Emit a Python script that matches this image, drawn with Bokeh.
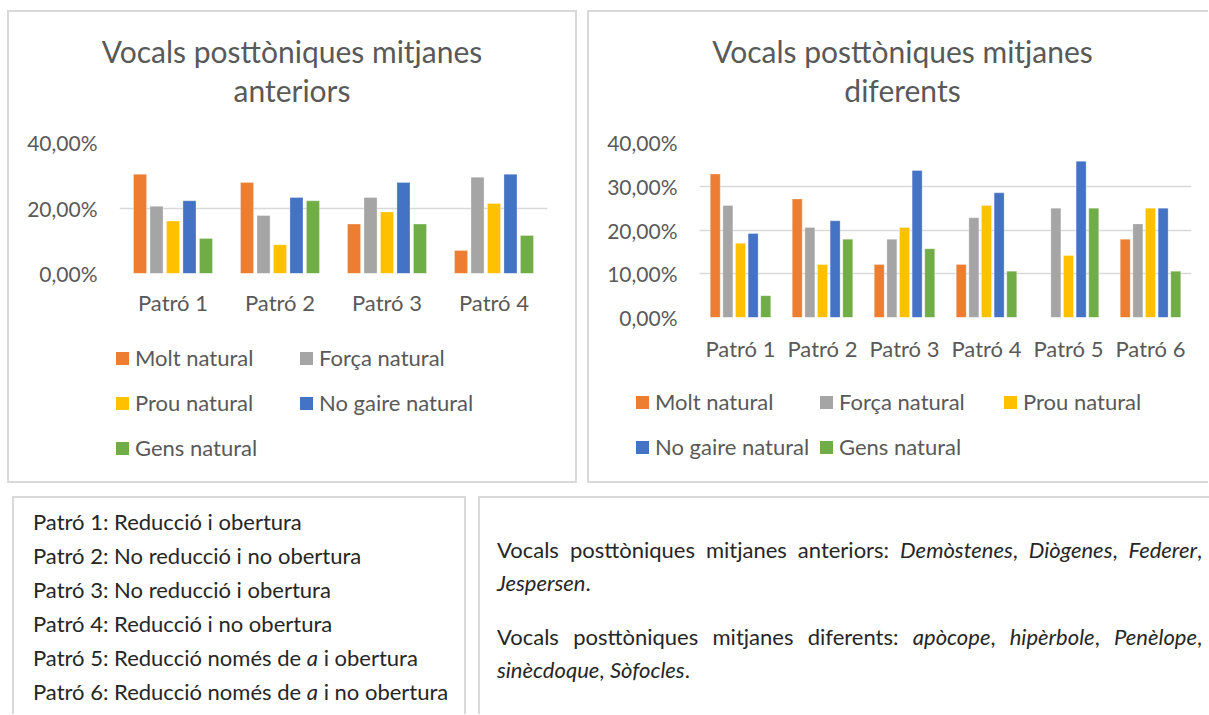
from bokeh.plotting import figure
from bokeh.models import (ColumnDataSource, FactorRange, Range1d, FixedTicker,
                          CustomJSTickFormatter, Div)
from bokeh.layouts import row, column
from bokeh.transform import dodge
from bokeh.embed import file_html
from bokeh.resources import INLINE

# ---------------- data ----------------
series = ["Molt natural", "Força natural", "Prou natural", "No gaire natural", "Gens natural"]
colors = ["#ED7D31", "#A5A5A5", "#FFC000", "#4472C4", "#70AD47"]

cats_a = ["Patró 1", "Patró 2", "Patró 3", "Patró 4"]
molt_a = [30.3, 27.8, 15.1, 7.0]
forca_a = [20.5, 17.7, 23.2, 29.4]
prou_a = [16.0, 8.8, 18.8, 21.4]
nogaire_a = [22.2, 23.2, 27.8, 30.3]
gens_a = [10.7, 22.2, 15.1, 11.6]
ticks_a = [0, 20, 40]

cats_d = ["Patró 1", "Patró 2", "Patró 3", "Patró 4", "Patró 5", "Patró 6"]
molt_d = [32.8, 27.1, 12.1, 12.1, 0.0, 17.9]
forca_d = [25.6, 20.6, 17.9, 22.8, 25.0, 21.4]
prou_d = [17.0, 12.1, 20.6, 25.6, 14.2, 25.0]
nogaire_d = [19.2, 22.1, 33.6, 28.5, 35.7, 25.0]
gens_d = [5.0, 17.9, 15.7, 10.6, 25.0, 10.6]
ticks_d = [0, 10, 20, 30, 40]

title_a = ["Vocals posttòniques mitjanes", "anteriors"]
title_d = ["Vocals posttòniques mitjanes", "diferents"]

notes_patrons = [
    "Patró 1: Reducció i obertura",
    "Patró 2: No reducció i no obertura",
    "Patró 3: No reducció i obertura",
    "Patró 4: Reducció i no obertura",
    "Patró 5: Reducció només de <i>a</i> i obertura",
    "Patró 6: Reducció només de <i>a</i> i no obertura",
]
note_anteriors = ("Vocals posttòniques mitjanes anteriors: <i>Demòstenes</i>, <i>Diògenes</i>, "
                  "<i>Federer</i>, <i>Jespersen</i>.")
note_diferents = ("Vocals posttòniques mitjanes diferents: <i>apòcope</i>, <i>hipèrbole</i>, "
                  "<i>Penèlope</i>, <i>sinècdoque</i>, <i>Sòfocles</i>.")

FONT = "Lato"
GRAY = "#595959"
BORDER = "#d9d9d9"
TITLE_H = 112


def make_title(lines, width, pad_left):
    html = ('<div style="box-sizing:border-box;width:%dpx;height:%dpx;padding:20px 0 0 %dpx;'
            'text-align:center;font-family:Lato;font-size:30px;line-height:39px;color:%s;">%s</div>'
            % (width, TITLE_H, pad_left, GRAY, "<br>".join(lines)))
    return Div(text=html, width=width, height=TITLE_H, margin=(0, 0, 0, 0))


def make_chart(cats, vals, ticks, width, height, mb_left, mb_right, mb_top, mb_bottom, x_standoff):
    src = ColumnDataSource(dict(cat=cats, s0=vals[0], s1=vals[1], s2=vals[2], s3=vals[3], s4=vals[4]))
    p = figure(x_range=FactorRange(*cats, range_padding=0), y_range=Range1d(0, 40),
               width=width, height=height, output_backend="svg", toolbar_location=None,
               min_border_left=mb_left, min_border_right=mb_right,
               min_border_top=mb_top, min_border_bottom=mb_bottom, margin=(0, 0, 0, 0))
    p.outline_line_color = None
    p.xgrid.visible = False
    p.ygrid.grid_line_color = BORDER
    p.ygrid.grid_line_width = 1.5
    p.yaxis.ticker = FixedTicker(ticks=ticks)
    p.yaxis.formatter = CustomJSTickFormatter(code="return tick.toFixed(2).replace('.', ',') + '%';")
    for ax in (p.xaxis[0], p.yaxis[0]):
        ax.axis_line_color = None
        ax.major_tick_line_color = None
        ax.minor_tick_line_color = None
        ax.major_tick_out = 0
        ax.major_tick_in = 0
        ax.major_label_text_font = FONT
        ax.major_label_text_color = GRAY
    p.yaxis.major_label_text_font_size = "21px"
    p.xaxis.major_label_text_font_size = "22px"
    p.yaxis.major_label_standoff = 22
    p.xaxis.major_label_standoff = x_standoff

    offsets = [-0.308, -0.154, 0.0, 0.154, 0.308]
    for i in range(5):
        p.vbar(x=dodge("cat", offsets[i], range=p.x_range), top="s%d" % i, width=0.122,
               source=src, fill_color=colors[i], line_color="white", line_alpha=0.5, line_width=0.6)
    return p


def make_legend(width, height, ncols, left0, top0, col_pitch=184, row_pitch=45):
    parts = []
    for i, (lab, col) in enumerate(zip(series, colors)):
        r, c = divmod(i, ncols)
        x = left0 + c * col_pitch
        y = top0 + r * row_pitch
        parts.append(
            '<div style="position:absolute;left:%dpx;top:%dpx;height:26px;display:flex;'
            'align-items:center;white-space:nowrap;">'
            '<span style="display:inline-block;width:13px;height:13px;background:%s;'
            'margin-right:6px;"></span>%s</div>' % (x, y, col, lab))
    html = ('<div style="position:relative;width:%dpx;height:%dpx;font-family:Lato;'
            'font-size:22px;color:%s;">%s</div>' % (width, height, GRAY, "".join(parts)))
    return Div(text=html, width=width, height=height, margin=(0, 0, 0, 0))


# left box: inner 566 x 469
t1 = make_title(title_a, 566, 0)
c1 = make_chart(cats_a, [molt_a, forca_a, prou_a, nogaire_a, gens_a], ticks_a,
                566, 211, 110, 28, 18, 211 - 18 - 131, 15)
l1 = make_legend(566, 146, 2, 107, 10)
box1 = column(t1, c1, l1, spacing=0,
              styles={"border": "2px solid " + BORDER, "box-sizing": "content-box"})

# right box: inner 619 x 469 (no right border)
t2 = make_title(title_d, 619, 8)
c2 = make_chart(cats_d, [molt_d, forca_d, prou_d, nogaire_d, gens_d], ticks_d,
                619, 246, 110, 17, 18, 246 - 18 - 175, 17)
l2 = make_legend(619, 111, 3, 47, 19)
box2 = column(t2, c2, l2, spacing=0,
              styles={"border": "2px solid " + BORDER, "border-right": "none",
                      "box-sizing": "content-box"})

html1 = ('<div style="box-sizing:border-box;width:454px;height:218px;border:2px solid %s;'
         'border-bottom:none;padding:7px 0 0 19px;font-family:Lato;font-size:22px;'
         'line-height:34px;color:#262626;white-space:nowrap;">%s</div>'
         % (BORDER, "<br>".join(notes_patrons)))
html2 = ('<div style="box-sizing:border-box;width:731px;height:218px;border-top:2px solid %s;'
         'border-left:2px solid %s;padding:35px 7px 0 17px;font-family:Lato;font-size:22px;'
         'line-height:33px;color:#262626;text-align:justify;">'
         '<p style="margin:0 0 21px 0;">%s</p><p style="margin:0;">%s</p></div>'
         % (BORDER, BORDER, note_anteriors, note_diferents))
d1 = Div(text=html1, width=454, height=218, margin=(0, 0, 0, 5))
d2 = Div(text=html2, width=731, height=218, margin=(0, 0, 0, 0))

layout = column(row(box1, box2, spacing=10), row(d1, d2, spacing=12),
                spacing=13, margin=(10, 0, 0, 7))

open("out.html", "w").write(file_html(layout, INLINE))
